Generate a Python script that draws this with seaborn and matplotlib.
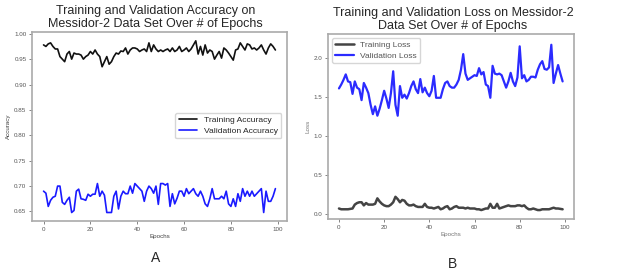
import numpy as np
import pandas as pd
import matplotlib
matplotlib.use("Agg")
import matplotlib.pyplot as plt
import seaborn as sns

# du lieu doc tu hinh
train_acc = [0.978, 0.975, 0.980, 0.982, 0.975, 0.970, 0.970, 0.955, 0.950, 0.945,
             0.960, 0.965, 0.950, 0.962, 0.960, 0.960, 0.958, 0.950, 0.955, 0.958,
             0.965, 0.960, 0.968, 0.960, 0.955, 0.935, 0.945, 0.955, 0.940, 0.945,
             0.955, 0.962, 0.960, 0.966, 0.965, 0.972, 0.960, 0.968, 0.972, 0.972,
             0.970, 0.965, 0.968, 0.970, 0.965, 0.982, 0.965, 0.978, 0.970, 0.965,
             0.968, 0.965, 0.968, 0.970, 0.965, 0.972, 0.965, 0.968, 0.975, 0.965,
             0.968, 0.972, 0.965, 0.970, 0.978, 0.986, 0.960, 0.975, 0.958, 0.978,
             0.962, 0.968, 0.965, 0.950, 0.958, 0.965, 0.952, 0.972, 0.968, 0.962,
             0.955, 0.948, 0.968, 0.970, 0.982, 0.975, 0.968, 0.980, 0.978, 0.970,
             0.972, 0.968, 0.972, 0.978, 0.968, 0.960, 0.972, 0.980, 0.975, 0.968]

val_acc = [0.690, 0.686, 0.660, 0.672, 0.678, 0.680, 0.700, 0.700, 0.668, 0.664,
           0.672, 0.678, 0.648, 0.652, 0.690, 0.694, 0.675, 0.674, 0.672, 0.684,
           0.680, 0.684, 0.684, 0.705, 0.680, 0.690, 0.682, 0.648, 0.648, 0.648,
           0.680, 0.690, 0.655, 0.680, 0.690, 0.685, 0.685, 0.700, 0.686, 0.705,
           0.700, 0.695, 0.690, 0.670, 0.690, 0.700, 0.695, 0.686, 0.700, 0.664,
           0.705, 0.705, 0.702, 0.705, 0.660, 0.685, 0.665, 0.676, 0.690, 0.690,
           0.680, 0.695, 0.685, 0.690, 0.695, 0.685, 0.680, 0.690, 0.680, 0.665,
           0.660, 0.675, 0.695, 0.675, 0.675, 0.675, 0.680, 0.675, 0.690, 0.665,
           0.660, 0.675, 0.660, 0.685, 0.670, 0.695, 0.680, 0.690, 0.680, 0.690,
           0.680, 0.685, 0.690, 0.695, 0.648, 0.690, 0.670, 0.670, 0.680, 0.695]

train_loss = [0.07, 0.06, 0.06, 0.06, 0.06, 0.065, 0.07, 0.12, 0.14, 0.15,
              0.15, 0.11, 0.14, 0.12, 0.12, 0.12, 0.13, 0.20, 0.16, 0.13,
              0.11, 0.10, 0.10, 0.12, 0.15, 0.22, 0.19, 0.15, 0.18, 0.17,
              0.13, 0.11, 0.11, 0.12, 0.10, 0.09, 0.09, 0.09, 0.13, 0.09,
              0.08, 0.08, 0.07, 0.08, 0.09, 0.06, 0.07, 0.09, 0.10, 0.06,
              0.07, 0.09, 0.10, 0.08, 0.08, 0.08, 0.07, 0.08, 0.07, 0.07,
              0.07, 0.06, 0.06, 0.05, 0.06, 0.07, 0.07, 0.13, 0.08, 0.08,
              0.13, 0.07, 0.08, 0.09, 0.10, 0.11, 0.10, 0.10, 0.10, 0.11,
              0.11, 0.10, 0.11, 0.08, 0.06, 0.06, 0.07, 0.06, 0.05, 0.05,
              0.06, 0.06, 0.06, 0.06, 0.07, 0.08, 0.07, 0.07, 0.065, 0.06]

val_loss = [1.61, 1.66, 1.72, 1.79, 1.70, 1.69, 1.54, 1.70, 1.62, 1.60,
            1.46, 1.68, 1.62, 1.55, 1.40, 1.28, 1.38, 1.26, 1.35, 1.46,
            1.58, 1.48, 1.36, 1.55, 1.83, 1.40, 1.26, 1.64, 1.49, 1.53,
            1.48, 1.55, 1.64, 1.70, 1.60, 1.55, 1.73, 1.56, 1.62, 1.55,
            1.51, 1.58, 1.77, 1.49, 1.49, 1.49, 1.60, 1.68, 1.70, 1.64,
            1.62, 1.62, 1.66, 1.72, 1.85, 2.05, 1.80, 1.72, 1.74, 1.76,
            1.78, 1.77, 1.87, 1.79, 1.82, 1.66, 1.64, 1.49, 1.90, 1.80,
            1.79, 1.80, 1.78, 1.70, 1.62, 1.70, 1.81, 1.70, 1.64, 1.75,
            2.15, 1.74, 1.78, 1.70, 1.72, 1.76, 1.76, 1.75, 1.85, 1.92,
            1.96, 1.86, 1.85, 1.88, 2.17, 1.68, 1.80, 1.91, 1.80, 1.70]

epochs = list(range(len(train_acc)))

sns.set_style("white")
plt.rcParams['font.family'] = ['Liberation Sans', 'DejaVu Sans']

fig = plt.figure(figsize=(6.22, 2.73), dpi=100)
ax1 = fig.add_axes([0.0514, 0.19, 0.41, 0.692])
ax2 = fig.add_axes([0.527, 0.198, 0.3955, 0.678])

# panel A
sns.lineplot(x=epochs, y=train_acc, ax=ax1, color='#111111', lw=1.2, label='Training Accuracy')
sns.lineplot(x=epochs, y=val_acc, ax=ax1, color='#1a1aff', lw=1.2, label='Validation Accuracy')
ax1.set_ylim(0.631, 1.003)
ax1.set_yticks([0.65, 0.70, 0.75, 0.80, 0.85, 0.90, 0.95, 1.00])
ax1.set_xticks([0, 20, 40, 60, 80, 100])
ax1.set_xlabel('Epochs', fontsize=4.5, color='#444444', labelpad=2)
ax1.set_ylabel('Accuracy', fontsize=4.5, color='#444444', labelpad=2)
ax1.legend(loc='center right', bbox_to_anchor=(0.995, 0.505), fontsize=6.1,
           frameon=True, fancybox=True, edgecolor='#cccccc', handlelength=2.2,
           borderpad=0.4, labelspacing=0.3)

# panel B
sns.lineplot(x=epochs, y=train_loss, ax=ax2, color='#444444', lw=1.8, label='Training Loss')
sns.lineplot(x=epochs, y=val_loss, ax=ax2, color='#2b2bff', lw=1.6, label='Validation Loss')
ax2.set_ylim(-0.064, 2.31)
ax2.set_yticks([0.0, 0.5, 1.0, 1.5, 2.0])
ax2.set_xticks([0, 20, 40, 60, 80, 100])
ax2.set_xlabel('Epochs', fontsize=4.5, color='#777777', labelpad=2)
ax2.set_ylabel('Loss', fontsize=4.5, color='#777777', labelpad=2)
leg2 = ax2.legend(loc='upper left', fontsize=6.0, frameon=True, fancybox=True,
                  edgecolor='#cccccc', handlelength=2.2, borderpad=0.4, labelspacing=0.3)
for t in leg2.get_texts():
    t.set_color('#555555')

for ax in (ax1, ax2):
    ax.tick_params(axis='both', labelsize=4.5, colors='#555555', length=2, width=0.5,
                   direction='out', pad=2, left=True, bottom=True)
    for s in ax.spines.values():
        s.set_color('#aaaaaa')
        s.set_linewidth(1.2)

fig.text(0.25, 0.937, 'Training and Validation Accuracy on\nMessidor-2 Data Set Over # of Epochs',
         ha='center', va='center', fontsize=9.0, linespacing=1.12)
fig.text(0.728, 0.93, 'Training and Validation Loss on Messidor-2\nData Set Over # of Epochs',
         ha='center', va='center', fontsize=9.0, linespacing=1.12)
fig.text(0.25, 0.055, 'A', ha='center', va='center', fontsize=10)
fig.text(0.727, 0.033, 'B', ha='center', va='center', fontsize=10)

fig.savefig('out.png', dpi=100)
